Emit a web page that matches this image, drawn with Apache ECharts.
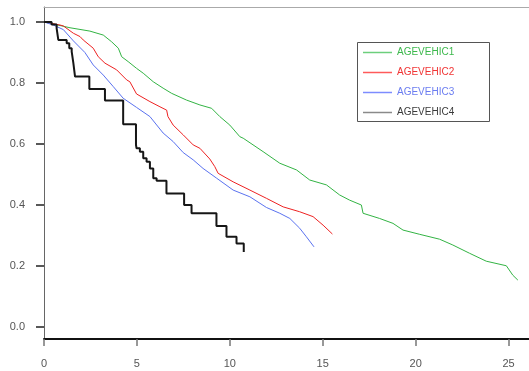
<!DOCTYPE html>
<html>
<head>
<meta charset="utf-8">
<script src="https://cdn.jsdelivr.net/npm/echarts@6/dist/echarts.min.js"></script>
<style>
  html, body { margin: 0; padding: 0; background: #ffffff; }
  #chart { width: 529px; height: 371px; }
</style>
</head>
<body>
<div id="chart"></div>
<script>
// Survival curves by vehicle age group
const names = ['AGEVEHIC1', 'AGEVEHIC2', 'AGEVEHIC3', 'AGEVEHIC4'];
const xTicks = [0, 5, 10, 15, 20, 25];
const yTicks = [0, 0.2, 0.4, 0.6, 0.8, 1.0];

const time1 = [0, 1.40, 2.47, 3.19, 3.64, 4.00, 4.18, 4.53, 4.98, 5.34, 5.88, 6.41, 6.87, 7.67, 8.39, 9.02, 9.46, 10.0, 10.54, 10.72, 11.79, 12.69, 13.59, 14.30, 15.20, 15.91, 16.45, 17.08, 17.17, 18.06, 18.78, 19.32, 20.22, 21.29, 22.0, 22.90, 23.80, 24.88, 25.23, 25.5];
const surv1 = [1.0, 0.981, 0.970, 0.957, 0.935, 0.914, 0.886, 0.870, 0.848, 0.832, 0.804, 0.783, 0.766, 0.744, 0.728, 0.717, 0.690, 0.662, 0.624, 0.619, 0.575, 0.537, 0.515, 0.482, 0.466, 0.433, 0.416, 0.400, 0.373, 0.356, 0.340, 0.318, 0.304, 0.288, 0.269, 0.242, 0.216, 0.201, 0.170, 0.154];

const time2 = [0, 0.86, 1.04, 1.58, 1.94, 2.11, 2.65, 2.92, 3.28, 3.91, 4.45, 4.62, 4.98, 5.70, 6.24, 6.60, 6.67, 6.95, 7.49, 8.03, 8.39, 8.92, 9.19, 9.37, 10.18, 11.08, 11.97, 12.87, 13.76, 14.48, 15.02, 15.52];
const surv2 = [1.0, 0.990, 0.987, 0.963, 0.952, 0.941, 0.914, 0.886, 0.865, 0.843, 0.810, 0.804, 0.764, 0.739, 0.722, 0.711, 0.690, 0.662, 0.630, 0.597, 0.586, 0.551, 0.526, 0.504, 0.476, 0.449, 0.422, 0.394, 0.378, 0.362, 0.334, 0.305];

const time3 = [0, 0.50, 1.04, 1.58, 2.20, 2.65, 3.19, 3.73, 4.26, 4.98, 5.70, 6.41, 6.95, 7.49, 8.03, 8.56, 9.29, 10.18, 11.08, 11.97, 12.69, 13.23, 13.76, 14.12, 14.53];
const surv3 = [1.0, 0.990, 0.975, 0.938, 0.900, 0.859, 0.826, 0.788, 0.750, 0.720, 0.690, 0.636, 0.608, 0.572, 0.548, 0.520, 0.488, 0.449, 0.427, 0.392, 0.373, 0.356, 0.324, 0.296, 0.263];

const time4 = [0, 0.41, 0.68, 0.77, 1.22, 1.36, 1.49, 1.58, 1.67, 2.44, 3.28, 4.26, 4.95, 4.98, 5.16, 5.34, 5.52, 5.70, 5.88, 6.06, 6.59, 7.54, 7.94, 9.28, 9.82, 10.36, 10.75];
const surv4 = [1.0, 0.992, 0.979, 0.941, 0.930, 0.914, 0.903, 0.865, 0.821, 0.780, 0.743, 0.665, 0.597, 0.586, 0.575, 0.553, 0.542, 0.520, 0.488, 0.480, 0.438, 0.400, 0.373, 0.331, 0.296, 0.274, 0.246];

const lineColors = ['#33b444', '#ee2222', '#5a72f0', '#161616'];
const legendLineColors = ['#6ccf7c', '#ff5a5a', '#7d8cff', '#8a8a8a'];
const legendTextColors = ['#3cb84c', '#f03434', '#6a7cf0', '#3a3a3a'];

const FONT = '"Liberation Sans Narrow", "Liberation Sans", sans-serif';

function zip(t, s) { return t.map((v, i) => [v, s[i]]); }

const seriesData = [zip(time1, surv1), zip(time2, surv2), zip(time3, surv3), zip(time4, surv4)];

const chart = echarts.init(document.getElementById('chart'), null, { renderer: 'canvas' });

chart.setOption({
  animation: false,
  backgroundColor: '#ffffff',
  grid: { left: 44, right: 0, top: 7, bottom: 32, containLabel: false },
  graphic: [{
    type: 'rect',
    left: 357, top: 42,
    shape: { width: 132, height: 79 },
    style: { fill: '#ffffff', stroke: '#555555', lineWidth: 1 },
    z: 5
  }],
  legend: {
    orient: 'vertical',
    left: 363, top: 47,
    icon: 'rect',
    itemWidth: 29, itemHeight: 1.5, itemGap: 9,
    padding: 0,
    z: 10,
    data: names.map((n, i) => ({
      name: n,
      itemStyle: { color: legendLineColors[i], borderWidth: 0 },
      textStyle: { color: legendTextColors[i], fontFamily: FONT, fontSize: 10, lineHeight: 11 }
    }))
  },
  xAxis: [{
    type: 'value',
    min: 0, max: 26.1,
    axisLine: { show: true, onZero: false, lineStyle: { color: '#111', width: 2 } },
    axisTick: { show: true, inside: false, length: 7, customValues: xTicks, lineStyle: { color: '#777', width: 1.5 } },
    axisLabel: { customValues: xTicks, margin: 19, color: '#555', fontFamily: FONT, fontSize: 11 },
    splitLine: { show: false }
  }, {
    type: 'value',
    position: 'top',
    min: 0, max: 26.1,
    axisLine: { show: true, onZero: false, lineStyle: { color: '#aaaaaa', width: 1 } },
    axisTick: { show: false },
    axisLabel: { show: false },
    splitLine: { show: false }
  }],
  yAxis: {
    type: 'value',
    min: -0.039, max: 1.049,
    axisLine: { show: true, onZero: false, lineStyle: { color: '#666', width: 1 } },
    axisTick: { show: true, inside: false, length: 8, customValues: yTicks, lineStyle: { color: '#222', width: 1.5 } },
    axisLabel: { customValues: yTicks, margin: 19, color: '#555', fontFamily: FONT, fontSize: 11,
      formatter: v => v.toFixed(1) },
    splitLine: { show: false }
  },
  series: names.map((n, i) => ({
    name: n,
    type: 'line',
    xAxisIndex: 0,
    data: seriesData[i],
    step: i === 3 ? 'end' : false,
    showSymbol: false,
    symbol: 'none',
    color: lineColors[i],
    lineStyle: { color: lineColors[i], width: i === 3 ? 2 : 1 },
    z: i === 3 ? 4 : 3
  }))
});
</script>
</body>
</html>
